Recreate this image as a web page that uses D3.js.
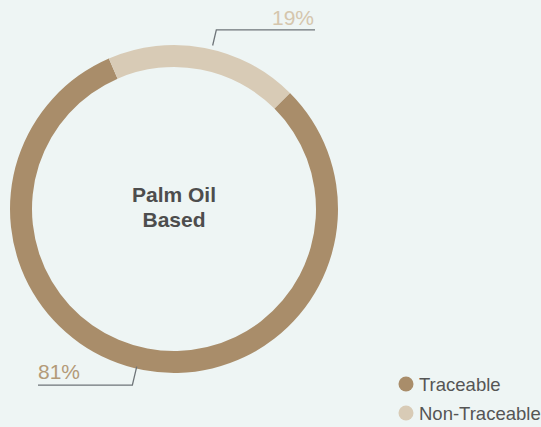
<!DOCTYPE html>
<html>
<head>
<meta charset="utf-8">
<script src="https://cdn.jsdelivr.net/npm/d3@7"></script>
<style>
  html, body { margin: 0; padding: 0; background: #eef5f4; }
  svg { display: block; font-family: "Liberation Sans", Arial, Helvetica, sans-serif; }
</style>
</head>
<body>
<svg id="chart" width="541" height="427"></svg>
<script>
// Share of palm-oil-based material by traceability
const categories = ["Traceable", "Non-Traceable"];
const values = [81, 19];
const valueLabels = ["81%", "19%"];
const colors = ["#a98d6a", "#d8cbb6"];
const labelColors = ["#b39a78", "#d5c6ad"];
const centerLines = ["Palm Oil", "Based"];

const svg = d3.select("#chart");
const cx = 174, cy = 209;
const outerR = 164, innerR = 142;
const deg = Math.PI / 180;

const data = categories.map((c, i) => ({ name: c, value: values[i], label: valueLabels[i], color: colors[i], labelColor: labelColors[i] }));

const pie = d3.pie()
  .value(d => d.value)
  .sort(null)
  .startAngle(45 * deg)
  .endAngle(45 * deg + 2 * Math.PI);

const arc = d3.arc().innerRadius(innerR).outerRadius(outerR);

const g = svg.append("g").attr("transform", `translate(${cx},${cy})`);
const arcs = pie(data);

g.selectAll("path.slice")
  .data(arcs)
  .join("path")
  .attr("class", "slice")
  .attr("d", arc)
  .attr("fill", d => d.data.color);

// Leader lines with value labels
const leaderSpec = {
  "Non-Traceable": { shift: 2.5, r0: 168, r1: 184, endX: 141, textAnchor: "end", textDx: -1, textDy: -5 },
  "Traceable": { shift: 2.5, r0: 162, r1: 181, endX: -136, textAnchor: "start", textDx: 0, textDy: -6 }
};

arcs.forEach(a => {
  const s = leaderSpec[a.data.name];
  const ang = (a.startAngle + a.endAngle) / 2 + s.shift * deg;
  const p0 = [Math.sin(ang) * s.r0, -Math.cos(ang) * s.r0];
  const p1 = [Math.sin(ang) * s.r1, -Math.cos(ang) * s.r1];
  const p2 = [s.endX, p1[1]];
  g.append("polyline")
    .attr("points", [p0, p1, p2].map(p => p.join(",")).join(" "))
    .attr("fill", "none")
    .attr("stroke", "#6e7478")
    .attr("stroke-width", 1.3);
  g.append("text")
    .attr("x", p2[0] + s.textDx)
    .attr("y", p2[1] + s.textDy)
    .attr("text-anchor", s.textAnchor)
    .attr("fill", a.data.labelColor)
    .attr("font-size", 21)
    .text(a.data.label);
});

// Center title
g.append("text")
  .attr("text-anchor", "middle")
  .attr("fill", "#4d4d4d")
  .attr("font-weight", "bold")
  .attr("font-size", 21)
  .selectAll("tspan")
  .data(centerLines)
  .join("tspan")
  .attr("x", 0)
  .attr("y", (d, i) => -7 + i * 25)
  .text(d => d);

// Legend
const legend = svg.append("g").attr("transform", "translate(406,384)");
const items = legend.selectAll("g")
  .data(data)
  .join("g")
  .attr("transform", (d, i) => `translate(0,${i * 29})`);
items.append("circle")
  .attr("r", 7.5)
  .attr("fill", d => d.color);
items.append("text")
  .attr("x", 13)
  .attr("y", 6.5)
  .attr("font-size", 18.5)
  .attr("fill", "#555555")
  .text(d => d.name);
</script>
</body>
</html>
